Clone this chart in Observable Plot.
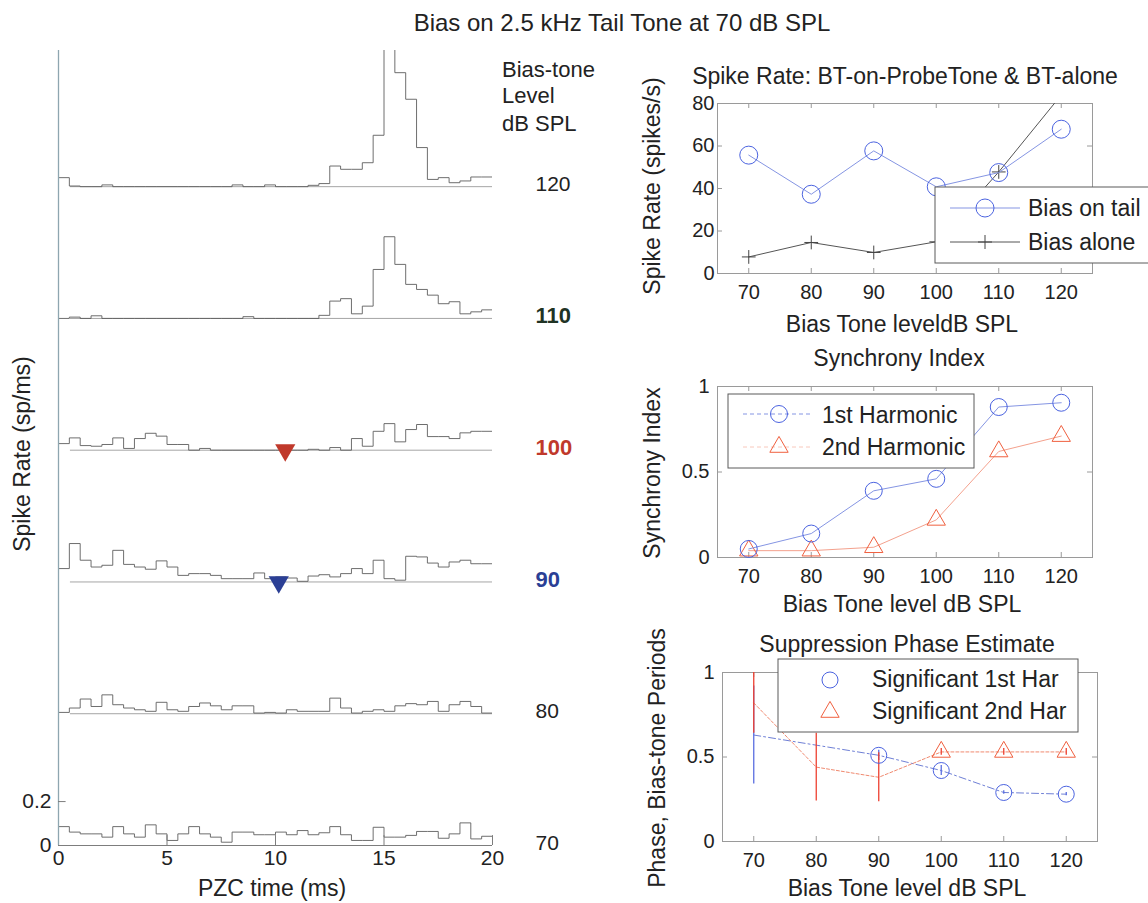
<!DOCTYPE html>
<html>
<head>
<meta charset="utf-8">
<script src="https://cdn.jsdelivr.net/npm/d3@7"></script>
<script src="https://cdn.jsdelivr.net/npm/@observablehq/plot@0.6"></script>
<style>
  html, body { margin: 0; padding: 0; background: #fff; }
  #figure { position: relative; width: 1148px; height: 903px; overflow: hidden; background: #fff; }
  #figure > svg { position: absolute; }
</style>
</head>
<body>
<div id="figure"></div>
<script>
const FONT = '"Liberation Sans", Arial, Helvetica, sans-serif';

// ---- Period histograms (sp/ms), 0.5 ms bins across the 20 ms bias-tone period ----
const timeBin = 0.5;
const psth70 = [0.086,0.061,0.053,0.053,0.038,0.086,0.053,0.038,0.094,0.053,0.023,0.053,0.086,0.053,0.038,0.015,0.061,0.061,0.049,0.049,0.061,0.049,0.068,0.049,0.058,0.086,0.049,0.023,0.023,0.083,0.038,0.038,0.046,0.064,0.064,0.033,0.053,0.103,0.030,0.042];
const psth80 = [0.006,0.026,0.067,0.033,0.086,0.041,0.026,0.018,0.011,0.052,0.018,0.011,0.033,0.049,0.036,0.018,0.036,0.036,0.003,0.006,0.003,0.018,0.011,0.011,0.011,0.071,0.026,0.003,0.011,0.018,0.011,0.036,0.046,0.041,0.056,0.011,0.041,0.056,0.033,0.003];
const psth90 = [0.061,0.175,0.099,0.068,0.076,0.144,0.080,0.068,0.058,0.096,0.068,0.030,0.038,0.038,0.030,0.015,0.015,0.015,0.041,0.015,0.023,0.018,0.003,0.027,0.033,0.023,0.038,0.061,0.038,0.099,0.015,0.008,0.117,0.114,0.086,0.068,0.091,0.099,0.083,0.083];
const psth100 = [0.030,0.056,0.021,0.018,0.026,0.056,0.008,0.053,0.077,0.064,0.026,0.026,0,0.008,0,0,0,0,0,0,0,0,0,0.004,0,0.012,0,0.053,0.018,0.086,0.121,0.038,0.094,0.117,0.062,0.062,0.053,0.079,0.086,0.086];
const psth110 = [0,0.006,0,0.012,0,0,0,0,0,0,0,0,0,0,0,0,0,0.008,0,0,0,0,0,0,0.014,0.079,0.090,0.021,0.056,0.223,0.372,0.246,0.155,0.132,0.106,0.067,0.076,0.021,0.030,0.039];
const psth120 = [0.041,0.003,0,0,0.008,0,0,0,0,0,0,0,0,0,0,0,0.008,0,0,0.008,0,0,0,0.006,0.014,0.094,0.079,0.079,0.109,0.234,0.75,0.519,0.398,0.178,0.033,0.041,0.018,0.026,0.044,0.044];

const psthLevels = [70, 80, 90, 100, 110, 120];
const psthByLevel = [psth70, psth80, psth90, psth100, psth110, psth120];
const levelStep = 0.6;              // vertical offset between stacked histograms (sp/ms)
const timeTicks = [0, 5, 10, 15, 20];
const rateTicks = [0, 0.2];
const boldLevels = [90, 100, 110];
const levelLabelColors = ["#222222", "#222222", "#2b3f95", "#c0392b", "#1f3324", "#222222"];

// Suppression-phase markers drawn on two histograms
const markLevels = [100, 90];
const markTimes = [10.45, 10.15];
const markColors = ["#c0392b", "#2b3f95"];

// ---- Summary panels ----
const biasLevels = [70, 80, 90, 100, 110, 120];
const rateOnTail = [55.7, 37.3, 57.7, 40.8, 47.5, 67.9];
const rateAlone = [7.8, 14.6, 9.9, 14.9, 47.8, 84];
const sync1st = [0.05, 0.14, 0.39, 0.46, 0.88, 0.905];
const sync2nd = [0.04, 0.04, 0.06, 0.22, 0.62, 0.71];
const phase1st = [0.63, 0.57, 0.51, 0.42, 0.29, 0.28];
const phase1stErr = [0.29, 0, 0.03, 0.03, 0.01, 0.01];
const phase1stSig = [false, false, true, true, true, true];
const phase2nd = [0.82, 0.44, 0.38, 0.53, 0.53, 0.53];
const phase2ndErr = [0.18, 0.2, 0.145, 0.02, 0.02, 0.02];
const phase2ndSig = [false, false, false, true, true, true];
const levelTicks = [70, 80, 90, 100, 110, 120];
const spikeTicks = [0, 20, 40, 60, 80];
const unitTicks = [0, 0.5, 1];

const BLUE = "#4b63e0", BLUE_LINE = "#8595e3", RED = "#f0603f", RED_LINE = "#f4a18d";
const AXIS = "#9a9a9a";
const fig = document.getElementById("figure");
const fmt = d => `${d}`;

function place(svg, left, top) {
  svg.style.left = left + "px";
  svg.style.top = top + "px";
  fig.appendChild(svg);
}

// ---- Left: stacked period histograms ----
const offsetOf = level => psthLevels.indexOf(level) * levelStep;
const psthRows = psthLevels.flatMap((level, i) => {
  const v = psthByLevel[i];
  const rows = v.map((r, k) => ({level, t: k * timeBin, y: i * levelStep + r}));
  rows.push({level, t: v.length * timeBin, y: i * levelStep + v[v.length - 1]});
  return rows;
});
const levelColor = level => levelLabelColors[psthLevels.indexOf(level)];

const left = Plot.plot({
  width: 620, height: 903,
  marginLeft: 58, marginRight: 128, marginTop: 50, marginBottom: 58,
  style: {fontFamily: FONT, fontSize: "21px", color: "#222", background: "transparent", overflow: "visible"},
  x: {domain: [0, 20], ticks: timeTicks, tickSize: 0, tickPadding: 5, tickFormat: fmt, label: null},
  y: {domain: [0, 3.62], ticks: rateTicks, tickSize: 0, tickPadding: 7, tickFormat: fmt, label: null},
  color: {type: "identity"},
  marks: [
    Plot.ruleY(psthLevels.slice(1), {y: offsetOf, x1: 0.55, x2: 20, stroke: "#a5a5a5", strokeWidth: 1}),
    Plot.line(psthRows, {x: "t", y: "y", z: "level", curve: "step-after", stroke: "#5e5e5e", strokeWidth: 0.9, clip: true}),
    Plot.ruleX([0], {stroke: "#8ea6b0", strokeWidth: 1.3}),
    Plot.ruleY([0], {x1: 0, x2: 20, stroke: "#7d7d7d"}),
    Plot.ruleX(timeTicks.slice(1), {x: d => d, y1: 0, y2: 0.045, stroke: "#7d7d7d"}),
    Plot.ruleY(rateTicks, {y: d => d, x1: 0, x2: 0.35, stroke: "#7d7d7d"}),
    Plot.dot(markLevels, {x: (d, i) => markTimes[i], y: offsetOf, symbol: "triangle", rotate: 180, r: 7.5,
      fill: (d, i) => markColors[i], stroke: "none"}),
    Plot.text(psthLevels.filter(l => !boldLevels.includes(l)), {x: 20, y: offsetOf, text: fmt, dx: 43, dy: -2,
      textAnchor: "start", fill: levelColor, fontSize: 21}),
    Plot.text(psthLevels.filter(l => boldLevels.includes(l)), {x: 20, y: offsetOf, text: fmt, dx: 43, dy: -2,
      textAnchor: "start", fill: levelColor, fontSize: 22, fontWeight: "bold"})
  ]
});
place(left, 0, 0);

// ---- Right: summary panels share one layout helper ----
function panel({height, mt, mb, ml, mr, yDomain, yTicks, yPad, marks}) {
  const width = 548;
  const frameW = width - ml - mr, frameH = height - mt - mb;
  return Plot.plot({
    width, height, marginTop: mt, marginBottom: mb, marginLeft: ml, marginRight: mr,
    style: {fontFamily: FONT, fontSize: "20px", color: "#222", background: "transparent", overflow: "visible"},
    x: {domain: [65, 125], ticks: levelTicks, tickSize: 0, tickPadding: 11, tickFormat: fmt, label: null},
    y: {domain: yDomain, ticks: yTicks, tickSize: 0, tickPadding: yPad, tickFormat: fmt, label: null},
    color: {type: "identity"},
    marks: [
      Plot.frame({stroke: AXIS}),
      Plot.tickX(levelTicks, {x: d => d, insetTop: frameH - 5, stroke: AXIS}),
      Plot.tickX(levelTicks, {x: d => d, insetBottom: frameH - 5, stroke: AXIS}),
      Plot.tickY(yTicks, {y: d => d, insetRight: frameW - 5, stroke: AXIS}),
      Plot.tickY(yTicks, {y: d => d, insetLeft: frameW - 5, stroke: AXIS}),
      ...marks
    ]
  });
}

const rateRows = biasLevels.map((L, i) => ({L, onTail: rateOnTail[i], alone: rateAlone[i]}));
place(panel({
  height: 305, mt: 58, mb: 77, ml: 117, mr: 56, yDomain: [0, 80], yTicks: spikeTicks, yPad: 3,
  marks: [
    Plot.line(rateRows, {x: "L", y: "alone", stroke: "#555", strokeWidth: 1, clip: true}),
    Plot.dot(rateRows, {x: "L", y: "alone", symbol: "plus", r: 4.5, stroke: "#444", strokeWidth: 1, clip: true}),
    Plot.line(rateRows, {x: "L", y: "onTail", stroke: BLUE_LINE, strokeWidth: 1}),
    Plot.dot(rateRows, {x: "L", y: "onTail", r: 9, stroke: BLUE, fill: "none", strokeWidth: 1})
  ]
}), 600, 45);

const syncRows = biasLevels.map((L, i) => ({L, h1: sync1st[i], h2: sync2nd[i]}));
place(panel({
  height: 300, mt: 56, mb: 73, ml: 117, mr: 56, yDomain: [0, 1], yTicks: unitTicks, yPad: 8,
  marks: [
    Plot.line(syncRows, {x: "L", y: "h2", stroke: RED_LINE, strokeWidth: 1}),
    Plot.dot(syncRows, {x: "L", y: "h2", symbol: "triangle", r: 6.8, stroke: RED, fill: "none", strokeWidth: 1}),
    Plot.line(syncRows, {x: "L", y: "h1", stroke: BLUE_LINE, strokeWidth: 1}),
    Plot.dot(syncRows, {x: "L", y: "h1", r: 8.5, stroke: BLUE, fill: "none", strokeWidth: 1})
  ]
}), 600, 330);

const phaseRows = biasLevels.map((L, i) => ({
  L, p1: phase1st[i], e1: phase1stErr[i], s1: phase1stSig[i],
  p2: phase2nd[i], e2: phase2ndErr[i], s2: phase2ndSig[i]
}));
place(panel({
  height: 288, mt: 57, mb: 62, ml: 122, mr: 51, yDomain: [0, 1], yTicks: unitTicks, yPad: 8,
  marks: [
    Plot.line(phaseRows, {x: "L", y: "p1", stroke: "#6f80d6", strokeWidth: 1, strokeDasharray: "7,3,2,3"}),
    Plot.ruleX(phaseRows.filter(d => d.e1 > 0), {x: "L", y1: d => d.p1 - d.e1, y2: d => d.p1 + d.e1, stroke: "#5a6ee0", strokeWidth: 1.3, clip: true}),
    Plot.line(phaseRows, {x: "L", y: "p2", stroke: "#f08a70", strokeWidth: 1, strokeDasharray: "3,2"}),
    Plot.ruleX(phaseRows, {x: "L", y1: d => d.p2 - d.e2, y2: d => d.p2 + d.e2, stroke: "#ee4030", strokeWidth: 1.3, clip: true}),
    Plot.dot(phaseRows.filter(d => d.s1), {x: "L", y: "p1", r: 8, stroke: BLUE, fill: "none", strokeWidth: 1}),
    Plot.dot(phaseRows.filter(d => d.s2), {x: "L", y: "p2", symbol: "triangle", r: 6.8, stroke: RED, fill: "none", strokeWidth: 1})
  ]
}), 600, 615);

// ---- Titles, axis labels and legends ----
const over = d3.create("svg")
  .attr("width", 1148).attr("height", 903)
  .style("left", "0px").style("top", "0px")
  .attr("font-family", FONT).attr("fill", "#222");

function label(text, x, y, size, {anchor = "middle", rotate = 0, weight = "normal", fill = "#222"} = {}) {
  over.append("text")
    .attr("transform", `translate(${x},${y}) rotate(${rotate})`)
    .attr("text-anchor", anchor).attr("font-size", size).attr("font-weight", weight)
    .attr("fill", fill).text(text);
}

label("Bias on 2.5 kHz Tail Tone at 70 dB SPL", 622, 31, 24);
label("Bias-tone", 502, 77, 22, {anchor: "start"});
label("Level", 502, 103, 22, {anchor: "start"});
label("dB SPL", 502, 131, 22, {anchor: "start"});
label("Spike Rate (sp/ms)", 30, 454, 23, {rotate: -90});
label("PZC time (ms)", 272, 896, 23);

label("Spike Rate: BT-on-ProbeTone & BT-alone", 905, 84, 23);
label("Bias Tone leveldB SPL", 902, 332, 23);
label("Spike Rate (spikes/s)", 660, 186, 23, {rotate: -90});

label("Synchrony Index", 899, 366, 23);
label("Bias Tone level dB SPL", 902, 612, 23);
label("Synchrony Index", 660, 473, 23, {rotate: -90});

label("Suppression Phase Estimate", 907, 652, 23);
label("Bias Tone level dB SPL", 907, 896, 23);
label("Phase, Bias-tone Periods", 665, 758, 23, {rotate: -90});

const triPath = d3.symbol(d3.symbolTriangle, Math.PI * 6.8 * 6.8)();
function legendBox(x, y, w, h) {
  over.append("rect").attr("x", x).attr("y", y).attr("width", w).attr("height", h)
    .attr("fill", "#fff").attr("stroke", "#5a5a5a").attr("stroke-width", 1);
}
function sample(x1, x2, y, stroke, dash) {
  over.append("line").attr("x1", x1).attr("x2", x2).attr("y1", y).attr("y2", y)
    .attr("stroke", stroke).attr("stroke-width", 1).attr("stroke-dasharray", dash || null);
}
function ring(x, y, r, stroke) {
  over.append("circle").attr("cx", x).attr("cy", y).attr("r", r).attr("fill", "none").attr("stroke", stroke);
}
function tri(x, y, stroke) {
  over.append("path").attr("d", triPath).attr("transform", `translate(${x},${y})`)
    .attr("fill", "none").attr("stroke", stroke);
}
function plus(x, y, s, stroke) {
  over.append("path").attr("d", `M${x - s},${y}H${x + s}M${x},${y - s}V${y + s}`).attr("stroke", stroke).attr("fill", "none");
}

legendBox(935, 187, 230, 76);
sample(950, 1020, 208, BLUE_LINE);
ring(985, 208, 9, BLUE);
label("Bias on tail", 1028, 216, 23, {anchor: "start"});
sample(950, 1020, 242, "#555");
plus(985, 242, 7, "#444");
label("Bias alone", 1028, 250, 23, {anchor: "start"});

legendBox(728, 394, 246, 74);
sample(743, 813, 414, BLUE_LINE, "4,3");
ring(779, 414, 8.5, BLUE);
label("1st Harmonic", 822, 423, 23, {anchor: "start"});
sample(743, 813, 447, "#f8c8bc", "4,3");
tri(779, 447, RED);
label("2nd Harmonic", 822, 455, 23, {anchor: "start"});

legendBox(778, 659, 300, 73);
ring(830, 680, 8, BLUE);
label("Significant 1st Har", 872, 687, 23, {anchor: "start"});
tri(830, 712, RED);
label("Significant 2nd Har", 872, 719, 23, {anchor: "start"});

fig.appendChild(over.node());
</script>
</body>
</html>
